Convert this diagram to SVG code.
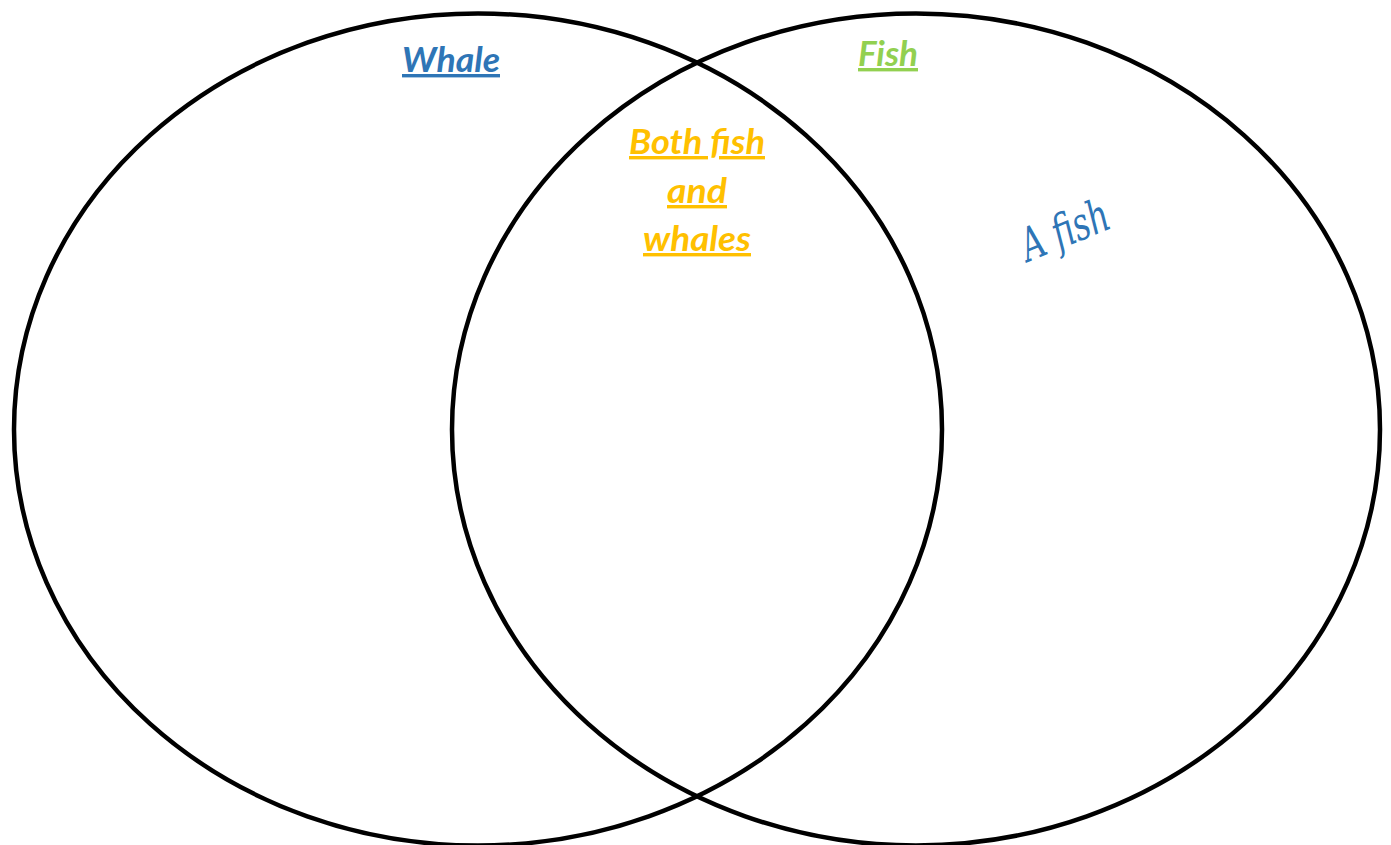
<svg xmlns="http://www.w3.org/2000/svg" width="1391" height="845" viewBox="0 0 1391 845">
<style>
.c{fill:none;stroke:#000;stroke-width:4.5}
.t{font-family:Lato,"Open Sans","Liberation Sans",sans-serif;font-weight:bold;font-style:italic;font-size:34px;text-decoration:underline;text-anchor:middle}
</style>
<rect width="1391" height="845" fill="#fff"/>
<g id="whale-set"><ellipse class="c" cx="478" cy="429.5" rx="464" ry="416"/></g>
<g id="fish-set"><ellipse class="c" cx="916" cy="429.5" rx="464" ry="416"/></g>
<g id="labels">
<text class="t" x="451" y="72" fill="#2E75B6" textLength="98" lengthAdjust="spacingAndGlyphs">Whale</text>
<text class="t" x="888" y="66" fill="#92D050" textLength="60" lengthAdjust="spacingAndGlyphs">Fish</text>
<text class="t" x="697" y="154" fill="#FFC000" textLength="136" lengthAdjust="spacingAndGlyphs">Both fish</text>
<text class="t" x="697" y="203" fill="#FFC000" textLength="60" lengthAdjust="spacingAndGlyphs">and</text>
<text class="t" x="697" y="251" fill="#FFC000" textLength="108" lengthAdjust="spacingAndGlyphs">whales</text>
<text x="0" y="0" transform="translate(1028,262) rotate(-22)" font-family="'DejaVu Serif','Liberation Serif',serif" font-style="italic" font-size="46" fill="#2E75B6" textLength="92" lengthAdjust="spacingAndGlyphs">A fish</text>
</g>
</svg>
